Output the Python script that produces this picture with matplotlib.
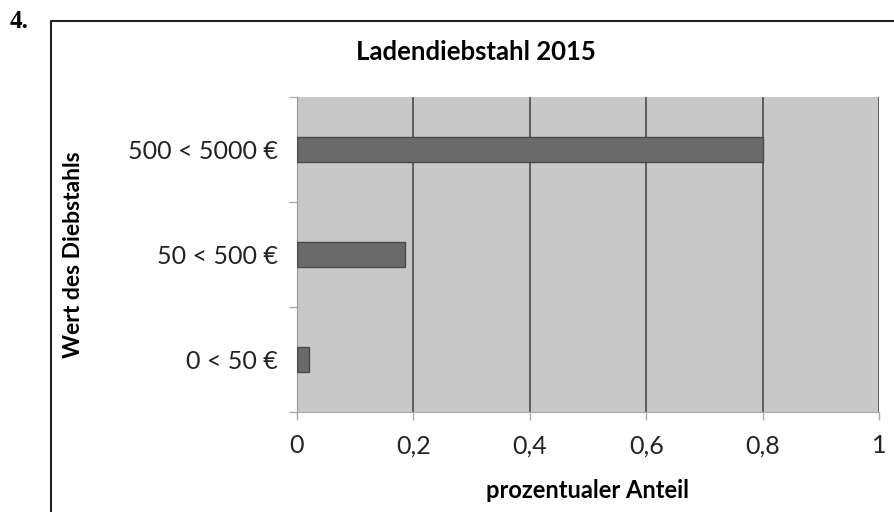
import matplotlib.pyplot as plt
from matplotlib.lines import Line2D
import numpy as np

# Daten
kategorien = ['0 < 50 €', '50 < 500 €', '500 < 5000 €']
anteile = [0.02, 0.185, 0.8]
x_ticks = [0, 0.2, 0.4, 0.6, 0.8, 1]
x_labels = ['0', '0,2', '0,4', '0,6', '0,8', '1']

plt.rcParams['font.family'] = ['Lato', 'DejaVu Sans']

fig = plt.figure(figsize=(8.94, 5.12), dpi=100)
ax = fig.add_axes([297 / 894, 1 - 412 / 512, 582 / 894, 315 / 512])

y = np.arange(len(kategorien))
ax.set_facecolor('#c8c8c8')
ax.barh(y, anteile, height=0.23, color='#6a6a6a', edgecolor='#4a4a4a',
        linewidth=1.0, zorder=3)

ax.set_xlim(0, 1)
ax.set_ylim(-0.5, 2.5)
ax.set_xticks(x_ticks)
ax.set_xticklabels(x_labels, fontsize=18, color='#222222')
ax.grid(axis='x', color='#555555', linewidth=1.3, zorder=1)

# Kategorien als Beschriftung, Tickstriche an den Grenzen
ax.set_yticks([-0.5, 0.5, 1.5, 2.5])
ax.set_yticklabels([])
ax.set_yticks(y, minor=True)
ax.set_yticklabels(kategorien, minor=True, fontsize=18, color='#222222')
ax.tick_params(axis='y', which='minor', length=0, pad=14)
ax.tick_params(axis='y', which='major', length=6, color='#aaaaaa', width=1)
ax.tick_params(axis='x', length=6, color='#aaaaaa', width=1, pad=10)

for s in ['top', 'right']:
    ax.spines[s].set_visible(False)
ax.spines['left'].set_color('#999999')
ax.spines['bottom'].set_color('#aaaaaa')

ax.set_xlabel('prozentualer Anteil', fontsize=17, fontweight='bold', labelpad=16)
fig.text(0.082, (1 - 412 / 512 + 1 - 97 / 512) / 2, 'Wert des Diebstahls', rotation=90,
         fontsize=16.5, fontweight='bold', ha='center', va='center')
fig.text(476 / 894, 1 - 52 / 512, 'Ladendiebstahl 2015', fontsize=18.5,
         fontweight='bold', ha='center', va='center')

# Rahmen und Aufgabennummer
fig.add_artist(Line2D([51 / 894, 51 / 894, 1], [0, 1 - 21 / 512, 1 - 21 / 512],
                      color='#222222', linewidth=1.5))
fig.text(10 / 894, 1 - 22 / 512, '4.', fontsize=18, fontweight='bold',
         family='Liberation Serif', ha='left', va='center')

fig.savefig('out.png', dpi=100)
